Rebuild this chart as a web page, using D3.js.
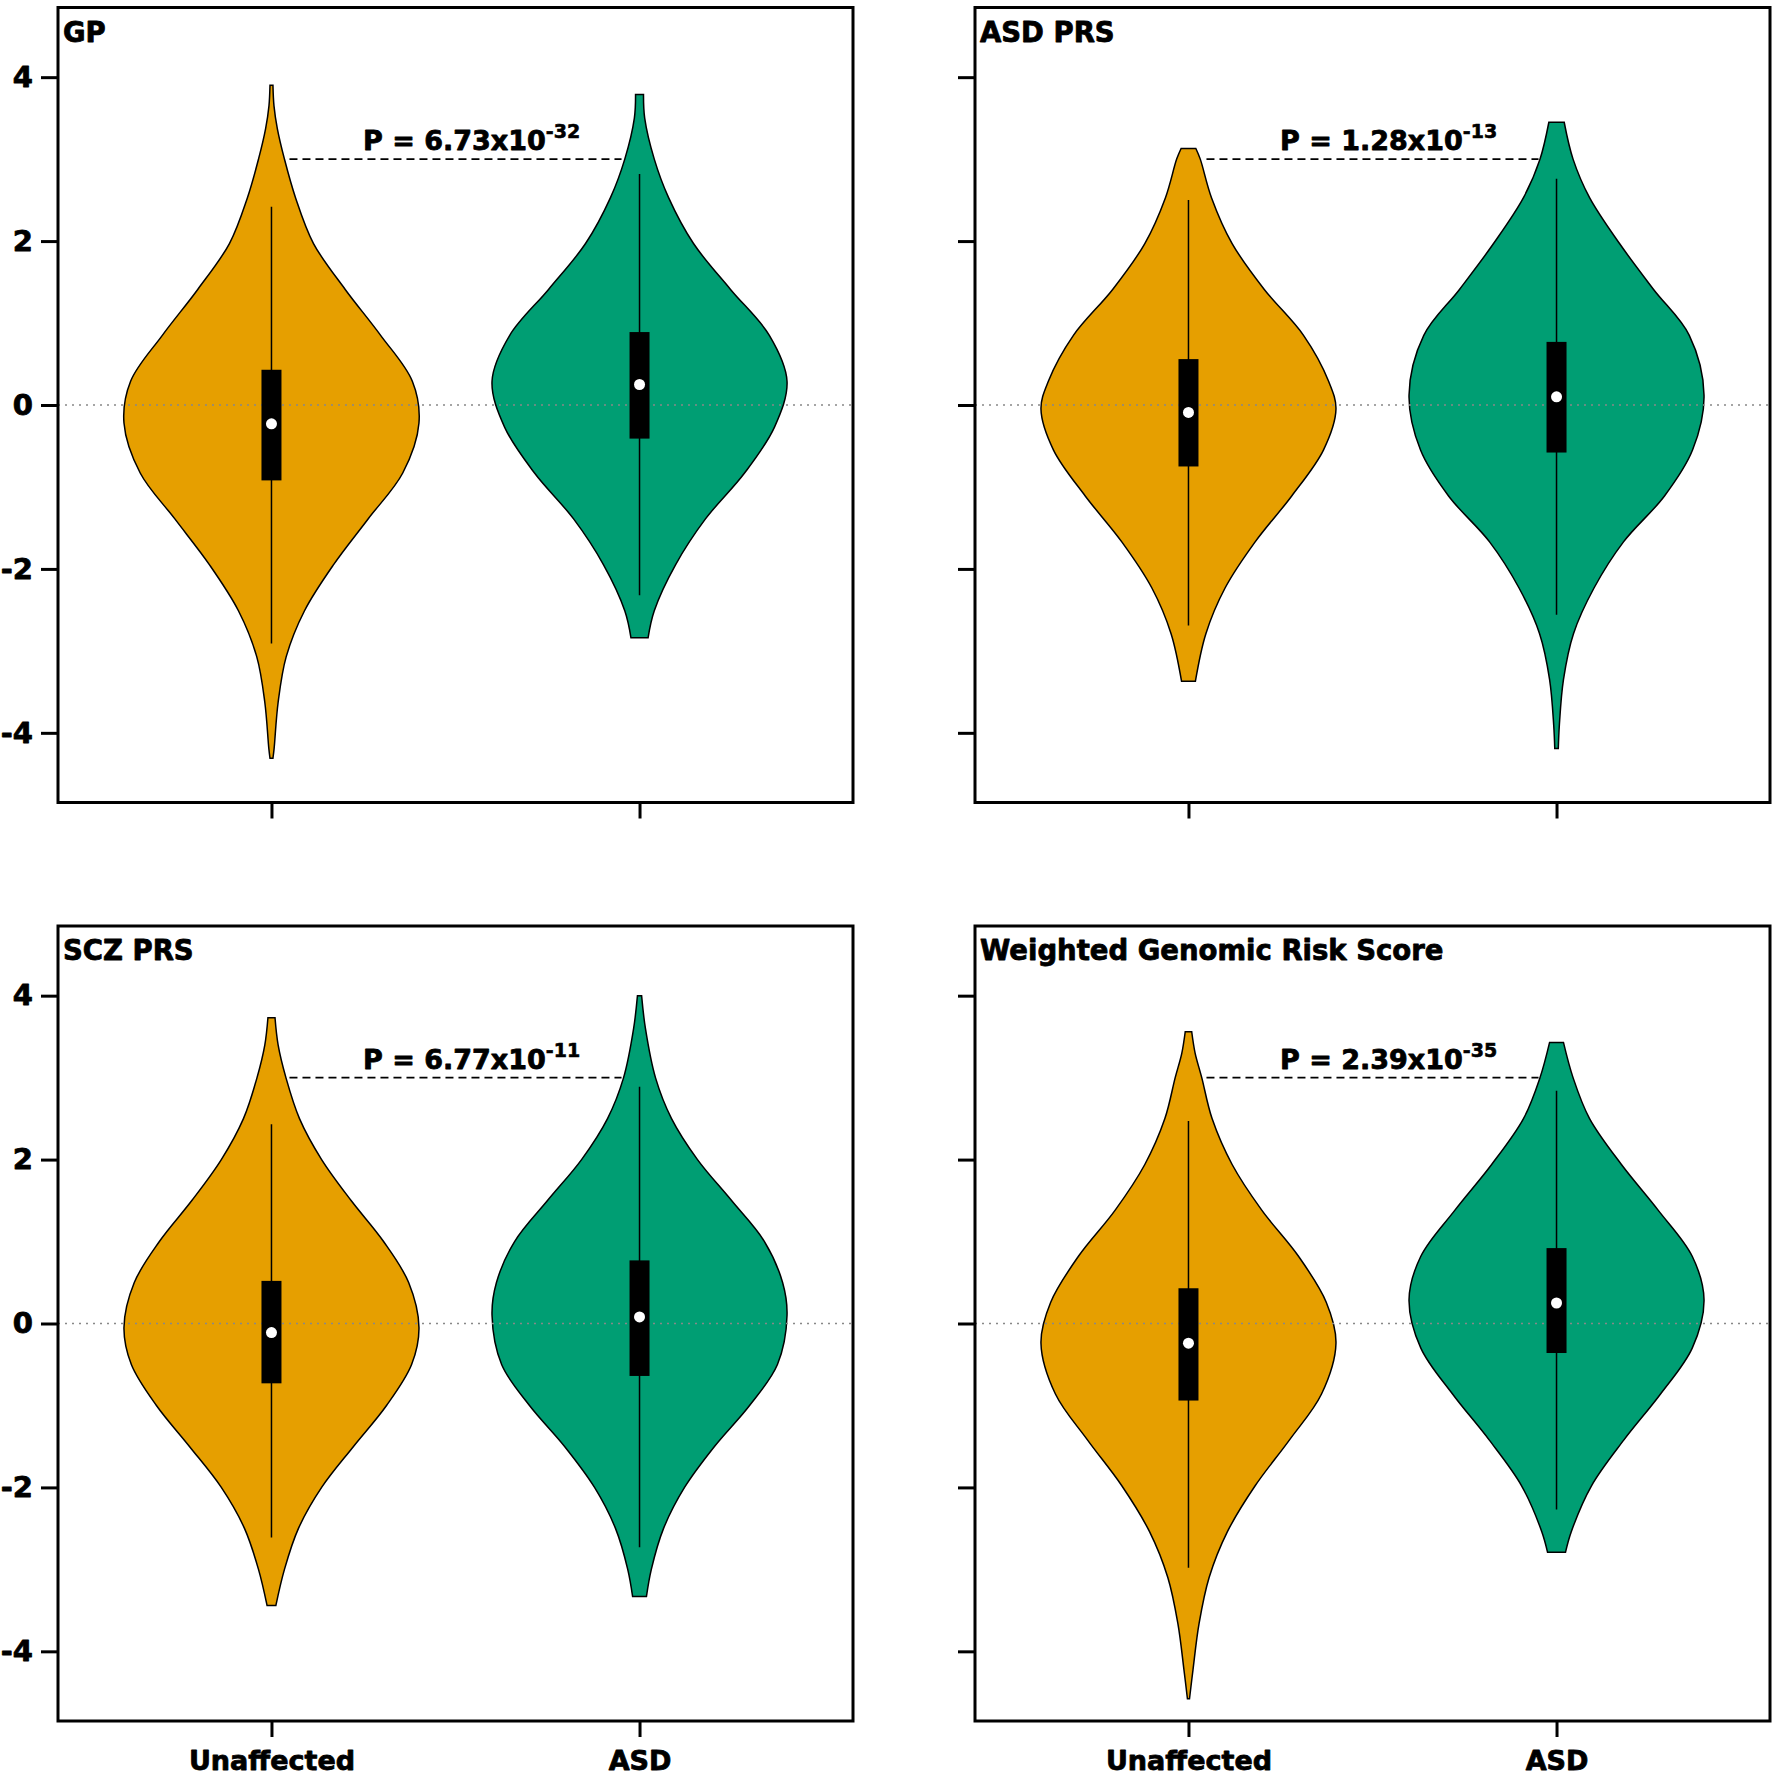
<!DOCTYPE html>
<html><head><meta charset="utf-8">
<script src="https://cdn.jsdelivr.net/npm/d3@7"></script>
<style>body{margin:0;background:#fff}</style>
</head><body>
<svg id="chart" width="1776" height="1776"></svg>
<script>
// ---------- data ----------
const categories = ["Unaffected", "ASD"];
const panelTitles = ["GP", "ASD PRS", "SCZ PRS", "Weighted Genomic Risk Score"];
const pMantissa = ["6.73", "1.28", "6.77", "2.39"];
const pExponent = ["-32", "-13", "-11", "-35"];
const yTicks = [-4, -2, 0, 2, 4];
const sigLineValue = 3;

// violin profiles: [score, relative density width]
const gpUnaffected = [[3.90,0.01],[3.65,0.017],[3.37,0.04],[3.0,0.088],[2.53,0.163],[1.97,0.285],[1.41,0.50],[0.85,0.74],[0.29,0.955],[-0.22,1.0],[-0.83,0.89],[-1.39,0.655],[-1.95,0.42],[-2.51,0.224],[-3.07,0.10],[-3.63,0.045],[-4.19,0.018],[-4.31,0.01]];
const gpASD = [[3.79,0.027],[3.5,0.035],[3.0,0.10],[2.53,0.197],[1.97,0.366],[1.41,0.617],[0.85,0.88],[0.29,1.0],[-0.27,0.915],[-0.83,0.712],[-1.39,0.447],[-1.95,0.244],[-2.51,0.10],[-2.84,0.058]];
const asdPrsUnaffected = [[3.13,0.05],[3.0,0.080],[2.53,0.156],[1.97,0.296],[1.41,0.514],[0.85,0.78],[0.29,0.95],[-0.05,1.0],[-0.55,0.915],[-1.11,0.70],[-1.67,0.452],[-2.23,0.249],[-2.79,0.118],[-3.37,0.047]];
const asdPrsASD = [[3.45,0.052],[3.0,0.112],[2.53,0.224],[1.97,0.427],[1.41,0.658],[0.85,0.90],[0.12,1.0],[-0.55,0.922],[-1.11,0.732],[-1.67,0.454],[-2.23,0.255],[-2.79,0.115],[-3.35,0.047],[-3.91,0.019],[-4.19,0.012]];
const sczPrsUnaffected = [[3.73,0.024],[3.4,0.045],[3.0,0.098],[2.5,0.19],[2.0,0.34],[1.5,0.54],[1.0,0.76],[0.5,0.93],[-0.05,1.0],[-0.5,0.95],[-1.0,0.78],[-1.5,0.556],[-2.0,0.34],[-2.5,0.183],[-3.0,0.088],[-3.44,0.03]];
const sczPrsASD = [[4.0,0.014],[3.6,0.04],[3.0,0.108],[2.5,0.217],[2.0,0.393],[1.5,0.624],[1.0,0.847],[0.5,0.97],[0.1,1.0],[-0.5,0.935],[-1.0,0.746],[-1.5,0.508],[-2.0,0.305],[-2.5,0.163],[-3.0,0.08],[-3.33,0.047]];
const wgrsUnaffected = [[3.56,0.022],[3.3,0.045],[3.0,0.09],[2.5,0.16],[1.94,0.296],[1.38,0.498],[0.82,0.746],[0.26,0.934],[-0.24,1.0],[-0.86,0.902],[-1.42,0.685],[-1.98,0.452],[-2.54,0.264],[-3.10,0.14],[-3.66,0.072],[-4.22,0.031],[-4.58,0.007]];
const wgrsASD = [[3.43,0.047],[3.0,0.112],[2.5,0.224],[1.94,0.44],[1.38,0.69],[0.82,0.92],[0.29,1.0],[-0.30,0.92],[-0.86,0.705],[-1.42,0.457],[-1.98,0.237],[-2.54,0.10],[-2.79,0.061]];

// box stats: [whisker low, q1, median, q3, whisker high]
const gpUnaffectedBox = [-2.91, -0.92, -0.23, 0.43, 2.42];
const gpASDBox = [-2.32, -0.41, 0.25, 0.89, 2.82];
const asdPrsUnaffectedBox = [-2.69, -0.75, -0.09, 0.56, 2.50];
const asdPrsASDBox = [-2.56, -0.58, 0.10, 0.77, 2.76];
const sczPrsUnaffectedBox = [-2.61, -0.73, -0.11, 0.52, 2.43];
const sczPrsASDBox = [-2.73, -0.64, 0.08, 0.77, 2.89];
const wgrsUnaffectedBox = [-2.98, -0.94, -0.24, 0.43, 2.47];
const wgrsASDBox = [-2.27, -0.36, 0.25, 0.92, 2.84];

const violins = [[gpUnaffected, gpASD], [asdPrsUnaffected, asdPrsASD], [sczPrsUnaffected, sczPrsASD], [wgrsUnaffected, wgrsASD]];
const boxes = [[gpUnaffectedBox, gpASDBox], [asdPrsUnaffectedBox, asdPrsASDBox], [sczPrsUnaffectedBox, sczPrsASDBox], [wgrsUnaffectedBox, wgrsASDBox]];
const colors = ["#E69F00", "#009E73"];

// ---------- layout ----------
const FONT = "'DejaVu Sans', sans-serif";
const panelW = 795, panelH = 795;
const origins = [[58, 7.5], [975, 7.5], [58, 926], [975, 926]];

const svg = d3.select("#chart");
const x = d3.scalePoint().domain(categories).range([0, panelW]).padding(0.58);
const y = d3.scaleLinear().domain([-4.85, 4.85]).range([panelH, 0]);
const wScale = d3.scaleLinear().domain([0, 1]).range([0, 147.5]);

function heavy(sel, size) {
  return sel.attr("font-family", FONT).attr("font-weight", "bold")
    .attr("font-size", size).attr("fill", "#000")
    .attr("stroke", "#000").attr("stroke-width", 0.8).attr("stroke-linejoin", "round");
}

panelTitles.forEach((title, i) => {
  const [ox, oy] = origins[i];
  const g = svg.append("g").attr("transform", `translate(${ox},${oy})`);
  const isLeft = i % 2 === 0, isBottom = i >= 2;

  // significance dashed line (behind violins)
  g.append("line")
    .attr("x1", x(categories[0]) + 18).attr("x2", x(categories[1]) - 18)
    .attr("y1", y(sigLineValue)).attr("y2", y(sigLineValue))
    .attr("stroke", "#000").attr("stroke-width", 1.6).attr("stroke-dasharray", "8,5");

  // violins
  categories.forEach((cat, j) => {
    const cx = x(cat);
    const area = d3.area()
      .curve(d3.curveCatmullRom.alpha(0.5))
      .y(d => y(d[0]))
      .x0(d => cx - wScale(d[1]))
      .x1(d => cx + wScale(d[1]));
    g.append("path")
      .datum(violins[i][j])
      .attr("d", area)
      .attr("fill", colors[j])
      .attr("stroke", "#000")
      .attr("stroke-width", 1.5);
  });

  // zero reference line
  g.append("line")
    .attr("x1", 0).attr("x2", panelW)
    .attr("y1", y(0)).attr("y2", y(0))
    .attr("stroke", "#888").attr("stroke-width", 1.3).attr("stroke-dasharray", "2,5");

  // box plots
  categories.forEach((cat, j) => {
    const cx = x(cat);
    const b = boxes[i][j];
    g.append("line")
      .attr("x1", cx).attr("x2", cx)
      .attr("y1", y(b[4])).attr("y2", y(b[0]))
      .attr("stroke", "#000").attr("stroke-width", 1.5);
    g.append("rect")
      .attr("x", cx - 10).attr("width", 20)
      .attr("y", y(b[3])).attr("height", y(b[1]) - y(b[3]))
      .attr("fill", "#000");
    g.append("circle")
      .attr("cx", cx).attr("cy", y(b[2])).attr("r", 5.5)
      .attr("fill", "#fff");
  });

  // p-value text
  const t = heavy(g.append("text"), 27)
    .attr("x", 305).attr("y", y(sigLineValue) - 9);
  t.append("tspan").text(`P = ${pMantissa[i]}x10`);
  t.append("tspan").attr("dy", -12).attr("font-size", 19).attr("stroke-width", 0.6).text(pExponent[i]);

  // panel title
  heavy(g.append("text"), 27.5)
    .attr("x", 5).attr("y", 34)
    .text(title);

  // y axis
  const yAxis = d3.axisLeft(y).tickValues(yTicks).tickSize(17).tickPadding(8)
    .tickFormat(isLeft ? d3.format("d") : () => "");
  const ya = g.append("g").call(yAxis);
  ya.select(".domain").remove();
  ya.selectAll(".tick line").attr("stroke", "#000").attr("stroke-width", 3);
  heavy(ya.selectAll(".tick text"), 29)
    .text(d => isLeft ? (d < 0 ? "-" + Math.abs(d) : String(d)) : "");

  // x axis
  const xAxis = d3.axisBottom(x).tickSize(16).tickPadding(14)
    .tickFormat(isBottom ? (d => d) : () => "");
  const xa = g.append("g").attr("transform", `translate(0,${panelH})`).call(xAxis);
  xa.select(".domain").remove();
  xa.selectAll(".tick line").attr("stroke", "#000").attr("stroke-width", 3);
  heavy(xa.selectAll(".tick text"), 27);

  // frame
  g.append("rect")
    .attr("x", 0).attr("y", 0).attr("width", panelW).attr("height", panelH)
    .attr("fill", "none").attr("stroke", "#000").attr("stroke-width", 3);
});
</script>
</body></html>
